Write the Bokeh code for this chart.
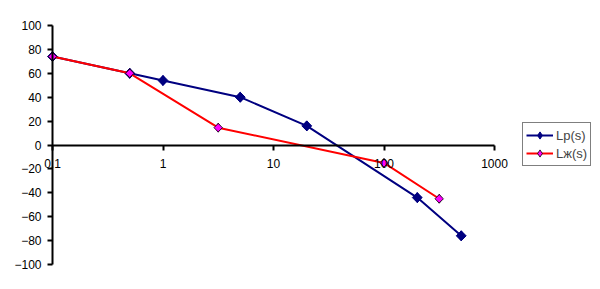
import math
from bokeh.plotting import figure
from bokeh.models import FixedTicker, CustomJSTickFormatter, Legend, LegendItem
from bokeh.embed import file_html
from bokeh.resources import INLINE

# data
lp_s = [0.1, 0.5, 1, 5, 20, 200, 500]
lp_db = [74, 60, 54, 40, 16, -44, -76]
lzh_s = [0.1, 0.5, 3.16, 100, 316]
lzh_db = [74, 60, 14.5, -15, -45]
x_ticks = [0.1, 1, 10, 100, 1000]
y_ticks = [-100, -80, -60, -40, -20, 0, 20, 40, 60, 80, 100]

W, H = 600, 289
# pixel placement of the axes' extents on the canvas
X0_PX, X1_PX = 52, 494
Y0_PX, Y1_PX = 264, 25
lx0, lx1 = math.log10(x_ticks[0]), math.log10(x_ticks[-1])
dpx = (lx1 - lx0) / (X1_PX - X0_PX)
x_start = 10 ** (lx0 - X0_PX * dpx)
x_end = 10 ** (lx1 + (W - X1_PX) * dpx)
dpy = (y_ticks[-1] - y_ticks[0]) / (Y0_PX - Y1_PX)
y_start = y_ticks[0] - (H - Y0_PX) * dpy
y_end = y_ticks[-1] + Y1_PX * dpy

p = figure(width=W, height=H, x_axis_type="log",
           x_range=(x_start, x_end), y_range=(y_start, y_end),
           output_backend="svg", toolbar_location=None,
           min_border_left=0, min_border_right=0,
           min_border_top=0, min_border_bottom=0)
p.outline_line_color = None
p.grid.visible = False
p.background_fill_color = "white"
p.border_fill_color = "white"

FONT = "Liberation Sans"
for ax in (p.xaxis[0], p.yaxis[0]):
    ax.axis_line_width = 2
    ax.axis_line_color = "black"
    ax.major_tick_line_width = 2
    ax.major_tick_line_color = "black"
    ax.major_tick_in = 0
    ax.major_tick_out = 5
    ax.minor_tick_out = 0
    ax.minor_tick_in = 0
    ax.major_label_text_font = FONT
    ax.major_label_text_font_size = "12px"
    ax.major_label_text_color = "black"

p.xaxis.ticker = FixedTicker(ticks=x_ticks)
p.xaxis.formatter = CustomJSTickFormatter(code="return tick.toString();")
p.xaxis.fixed_location = 0
p.xaxis.bounds = (x_ticks[0], x_ticks[-1])
p.xaxis.major_label_standoff = 9
p.yaxis.ticker = FixedTicker(ticks=y_ticks)
p.yaxis.fixed_location = x_ticks[0]
p.yaxis.bounds = (y_ticks[0], y_ticks[-1])
p.yaxis.major_label_standoff = 6

NAVY, RED, MAG = "#000080", "#FF0000", "#FF00FF"

l1 = p.line(lp_s, lp_db, line_color=NAVY, line_width=2)
# diamond markers used for the legend swatch (hidden beneath the plotted ones)
d1 = p.scatter(lp_s, lp_db, marker="diamond", size=10,
               fill_color=NAVY, line_color=NAVY)
m1 = p.scatter(lp_s, lp_db, marker="square", angle=math.pi / 4, size=7,
               fill_color=NAVY, line_color=NAVY)
l2 = p.line(lzh_s, lzh_db, line_color=RED, line_width=2)
d2 = p.scatter(lzh_s, lzh_db, marker="diamond", size=9,
               fill_color=MAG, line_color="black", line_width=0.8)
m2 = p.scatter(lzh_s, lzh_db, marker="square", angle=math.pi / 4, size=6,
               fill_color=MAG, line_color="black", line_width=0.8)

legend = Legend(items=[LegendItem(label="Lp(s)", renderers=[l1, d1]),
                       LegendItem(label="Lж(s)", renderers=[l2, d2])],
                location=(522, 123), orientation="vertical",
                border_line_color="black", border_line_width=1,
                background_fill_color="white", background_fill_alpha=1,
                padding=3, spacing=0, margin=0,
                glyph_width=27, glyph_height=18, label_height=18,
                label_standoff=3,
                label_text_font=FONT, label_text_font_size="13px")
p.add_layout(legend, "center")

open("out.html", "w").write(file_html(p, INLINE))
